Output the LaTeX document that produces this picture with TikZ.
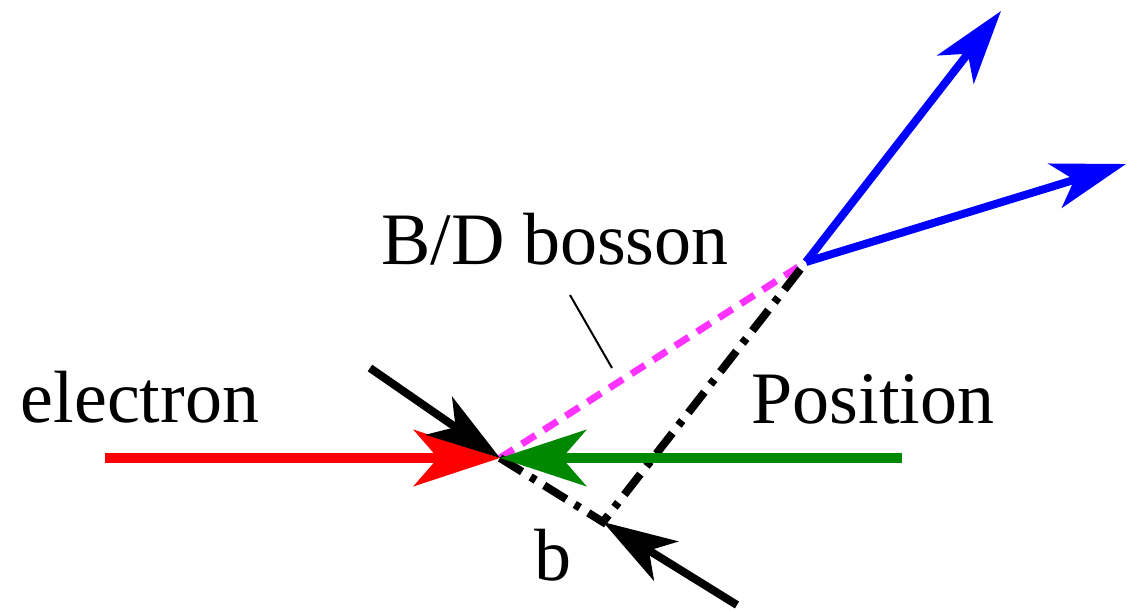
\documentclass[tikz,border=0pt]{standalone}
\usepackage{fontspec}
\newfontfamily\timesface[Extension=.ttf]{LiberationSerif-Regular}
\usetikzlibrary{arrows.meta}
\definecolor{bosonpink}{RGB}{255,51,255}
\definecolor{posgreen}{RGB}{0,136,0}
\definecolor{elered}{RGB}{255,0,0}
\definecolor{jetblue}{RGB}{0,0,255}

\begin{document}
\begin{tikzpicture}[x=0.5pt, y=-0.5pt,
    bigtip/.style={-{Stealth[length=43pt, width=28pt, inset=12pt]}},
    smalltip/.style={-{Stealth[length=37pt, width=23pt, inset=10pt]}},
    lbl/.style={anchor=base, inner sep=0pt, font=\timesface\fontsize{37}{44}\selectfont}]
       \useasboundingbox (0,0) rectangle (1141,611);
       % points
       \coordinate (A) at (500,458);
       \coordinate (B) at (603,522);
       \coordinate (V) at (806,262);
       \coordinate (e0) at (105,458);
       \coordinate (p0) at (902,458);
       \coordinate (k1) at (370,368);
       \coordinate (k2) at (737,605);
       \coordinate (out1) at (1001,11);
       \coordinate (out2) at (1126,164);
       \coordinate (m0) at (570,295);
       \coordinate (m1) at (612,368);

       % labels
       \node[lbl] (bos) at (555,264) {B/D bosson};
       \node[lbl] (ele) at (140,422) {electron};
       \node[lbl] (pos) at (873,423) {Position};
       \node[lbl] (bb) at (553,580) {b};

       % lines
       \draw[bosonpink, line width=3.5pt, dash pattern=on 8pt off 5pt] (A) -- (V);
       \draw[black, line width=4pt, dash pattern=on 13pt off 5pt on 3pt off 5pt] (A) -- (B) -- (V);
       \draw[black, line width=1pt] (m0) -- (m1);

       \draw[elered, line width=5pt, bigtip] (e0) -- (A);
       \draw[posgreen, line width=5pt, bigtip] (p0) -- (A);
       \draw[black, line width=4pt, smalltip] (k1) -- (A);
       \draw[black, line width=4pt, smalltip] (k2) -- (B);
       \draw[jetblue, line width=4pt, smalltip] (V) -- (out1);
       \draw[jetblue, line width=4pt, smalltip] (V) -- (out2);
    \end{tikzpicture}
\end{document}
